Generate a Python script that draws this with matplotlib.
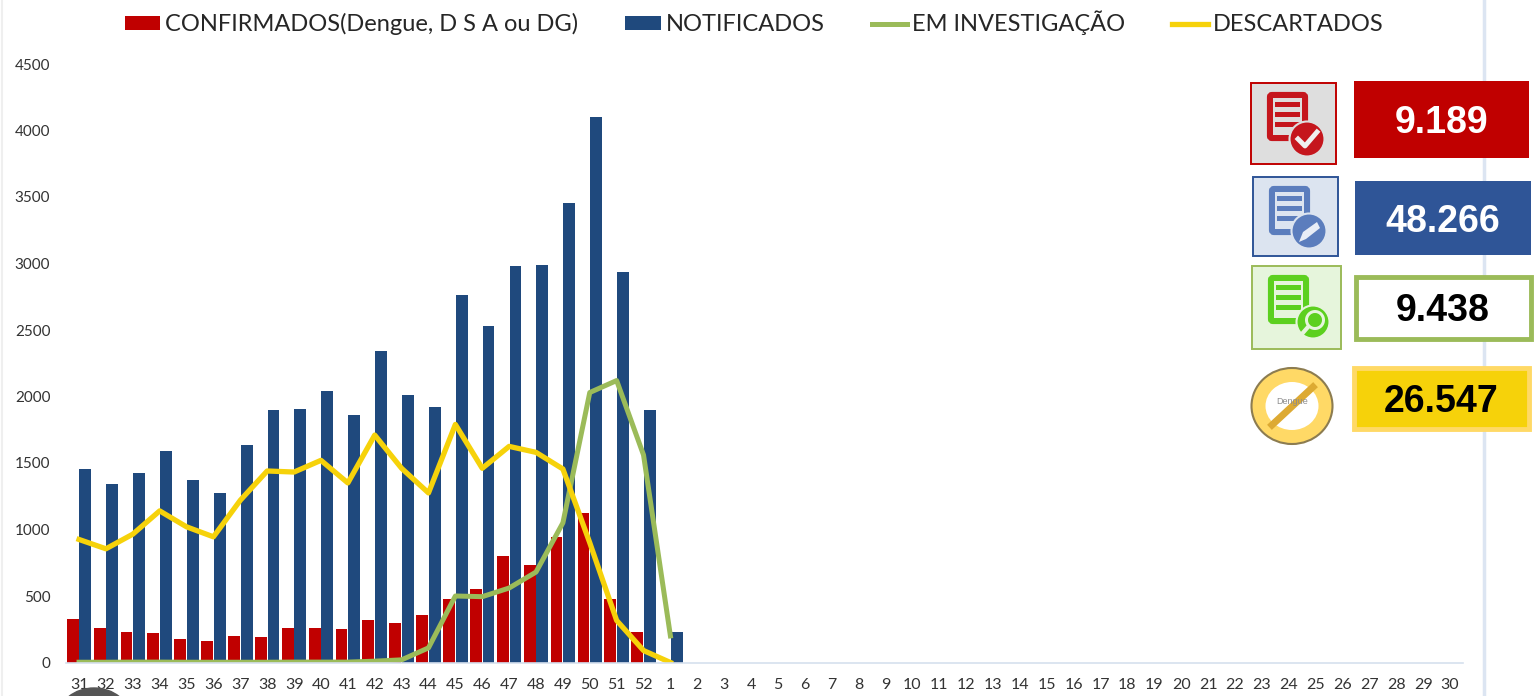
import numpy as np
import matplotlib
matplotlib.use("Agg")
import matplotlib.pyplot as plt
from matplotlib.patches import Rectangle, FancyBboxPatch, Circle, Ellipse, Wedge, Polygon
from matplotlib.lines import Line2D

# Data
semanas = [str(s) for s in range(31, 53)] + [str(s) for s in range(1, 31)]
confirmados = [325, 260, 233, 225, 175, 163, 198, 190, 260, 260, 253, 316, 296, 360,
               478, 549, 802, 732, 940, 1123, 478, 233, 0]
notificados = [1455, 1342, 1425, 1590, 1372, 1274, 1635, 1898, 1905, 2041, 1860, 2342,
               2011, 1921, 2763, 2530, 2981, 2989, 3455, 4102, 2936, 1898, 229]
investigacao = [2, 2, 3, 3, 2, 2, 2, 2, 3, 3, 3, 10, 20, 110,
                500, 495, 560, 680, 1050, 2030, 2120, 1560, 200]
descartados = [925, 855, 965, 1140, 1020, 945, 1220, 1440, 1432, 1520, 1350, 1710,
               1460, 1275, 1790, 1460, 1625, 1580, 1455, 900, 316, 90, 0]
y_ticks = [0, 500, 1000, 1500, 2000, 2500, 3000, 3500, 4000, 4500]
totais = ["9.189", "48.266", "9.438", "26.547"]

VERMELHO = "#C00000"
AZUL = "#1F497D"
VERDE = "#9BBB59"
AMARELO = "#F6D20A"

W, H = 1538, 696
plt.rcParams["font.family"] = ["Lato", "DejaVu Sans"]
fig = plt.figure(figsize=(W / 100, H / 100), dpi=100)

# main axes, placed in pixels
ax = fig.add_axes([65.6 / W, 1 - 662.5 / H, (1463.4 - 65.6) / W, (662.5 - 64) / H])
pos = np.arange(len(semanas))
n = len(confirmados)
b1 = ax.bar(pos[:n] - 0.235, confirmados, width=0.44, color=VERMELHO, label="CONFIRMADOS(Dengue, D S A ou DG)")
b2 = ax.bar(pos[:n] + 0.235, notificados, width=0.44, color=AZUL, label="NOTIFICADOS")
l1, = ax.plot(pos[:n], investigacao, color=VERDE, lw=3.6, solid_joinstyle="round", label="EM INVESTIGAÇÃO")
l2, = ax.plot(pos[:n], descartados, color=AMARELO, lw=3.8, solid_joinstyle="round", label="DESCARTADOS")

ax.set_xlim(-0.5, 51.5)
ax.set_ylim(0, 4500)
ax.set_xticks(pos)
ax.set_xticklabels(semanas, fontsize=11.5, color="#333333")
ax.set_yticks(y_ticks)
ax.set_yticklabels([str(v) for v in y_ticks], fontsize=11, color="#333333")
ax.tick_params(axis="x", length=0, pad=11)
ax.tick_params(axis="y", length=0, pad=11)
for s in ["top", "left", "right"]:
    ax.spines[s].set_visible(False)
ax.spines["bottom"].set_color("#D6E0EE")
ax.spines["bottom"].set_linewidth(1.2)

fig.legend(handles=[b1, b2, l1, l2], loc="center left", bbox_to_anchor=(125 / W, 1 - 23 / H), ncol=4,
           frameon=False, fontsize=17, handlelength=1.5, handleheight=0.5, handletextpad=0.2,
           columnspacing=2.0, labelcolor="#262626", borderpad=0, borderaxespad=0)

# overlay in pixel coordinates for the side panel and decorations
ov = fig.add_axes([0, 0, 1, 1], zorder=5)
ov.set_xlim(0, W)
ov.set_ylim(H, 0)
ov.axis("off")
ov.patch.set_alpha(0)

ov.add_line(Line2D([1484, 1484], [0, H], color="#DCE5F2", lw=2.5, zorder=0))
ov.add_line(Line2D([2, 2], [0, H], color="#EFEFEF", lw=1.5, zorder=0))
ov.add_patch(Ellipse((94, 718), 72, 60, color="#555555"))


def caixa(x0, y0, x1, y1, texto, fundo, borda, lw, cor_texto):
    ov.add_patch(Rectangle((x0, y0), x1 - x0, y1 - y0, facecolor=fundo, edgecolor=borda, lw=lw, zorder=2))
    ov.text((x0 + x1) / 2, (y0 + y1) / 2 + 3.5, texto, color=cor_texto, ha="center", va="center",
            fontsize=27, fontweight="bold", family="Liberation Sans", zorder=3)


caixa(1354, 81, 1529, 158, totais[0], VERMELHO, "none", 0, "white")
caixa(1355, 181, 1531, 255, totais[1], "#2F5597", "none", 0, "white")
caixa(1355.5, 276.5, 1530.5, 338.5, totais[2], "white", VERDE, 3.5, "black")
caixa(1353.5, 367.5, 1528.5, 428.5, totais[3], AMARELO, "#FFD966", 3.5, "black")


def icone_doc(x0, y0, x1, y1, fundo, borda, cor, cor_linha):
    ov.add_patch(Rectangle((x0, y0), x1 - x0, y1 - y0, facecolor=fundo, edgecolor=borda, lw=1.4, zorder=2))
    dx, dy = x0 + 16, y0 + 9
    ov.add_patch(FancyBboxPatch((dx + 2, dy + 2), 37, 45, boxstyle="round,pad=0,rounding_size=3",
                                facecolor=cor, edgecolor=cor, lw=3, zorder=3))
    ov.add_patch(Rectangle((dx + 6, dy + 6), 29, 37, facecolor=fundo, edgecolor="none", zorder=3))
    for k in range(3):
        ov.add_patch(Rectangle((dx + 8, dy + 10 + k * 10), 25, 4.5, facecolor=cor_linha, edgecolor="none", zorder=4))
    return dx, dy


# confirmed icon: document with check mark
dx, dy = icone_doc(1251, 83, 1336, 164, "#DEDEDE", VERMELHO, "#C5161D", "#C5161D")
ov.add_patch(Circle((dx + 40, dy + 47), 17.5, facecolor="#C5161D", edgecolor="#DEDEDE", lw=1.5, zorder=5))
ov.add_line(Line2D([dx + 31, dx + 38, dx + 50], [dy + 47, dy + 54, dy + 40], color="#EFEFEF", lw=3.5, zorder=6))

# notified icon: document with pencil
dx, dy = icone_doc(1253, 177, 1338, 256, "#DCE4F0", "#2F5597", "#5B7DBD", "#5B7DBD")
ov.add_patch(Circle((dx + 40, dy + 45), 17.5, facecolor="#5B7DBD", edgecolor="#DCE4F0", lw=1.5, zorder=5))
ov.add_patch(Polygon([[dx + 30, dy + 56], [dx + 34, dy + 46], [dx + 48, dy + 36], [dx + 51, dy + 42], [dx + 37, dy + 53]],
                     facecolor="#E8EDF6", edgecolor="none", zorder=6))

# under investigation icon: document with magnifier
dx, dy = icone_doc(1252, 266, 1341, 349, "#E6F5DC", VERDE, "#5CD01F", "#5CD01F")
ov.add_patch(Circle((dx + 45, dy + 47), 16.5, facecolor="#5CD01F", edgecolor="#E6F5DC", lw=1.5, zorder=5))
ov.add_patch(Wedge((dx + 47, dy + 45), 10, 0, 360, width=3, facecolor="#E6F5DC", edgecolor="none", zorder=6))
ov.add_line(Line2D([dx + 33, dx + 40], [dy + 60, dy + 52], color="#E6F5DC", lw=3, zorder=6))

# discarded icon: crossed out dengue
ov.add_patch(Ellipse((1292, 406), 81, 76, facecolor="#FFD966", edgecolor="#8C7C50", lw=1.5, zorder=2))
ov.add_patch(Ellipse((1292, 406), 53, 48, facecolor="white", edgecolor="none", zorder=3))
ov.add_line(Line2D([1272, 1313], [425, 387], color="#DDAA33", lw=5, zorder=4))
ov.text(1292, 401, "Dengue", color="#8C8C8C", fontsize=6.5, ha="center", va="center",
        family="Liberation Sans", zorder=5)

fig.savefig("out.png", dpi=100)
